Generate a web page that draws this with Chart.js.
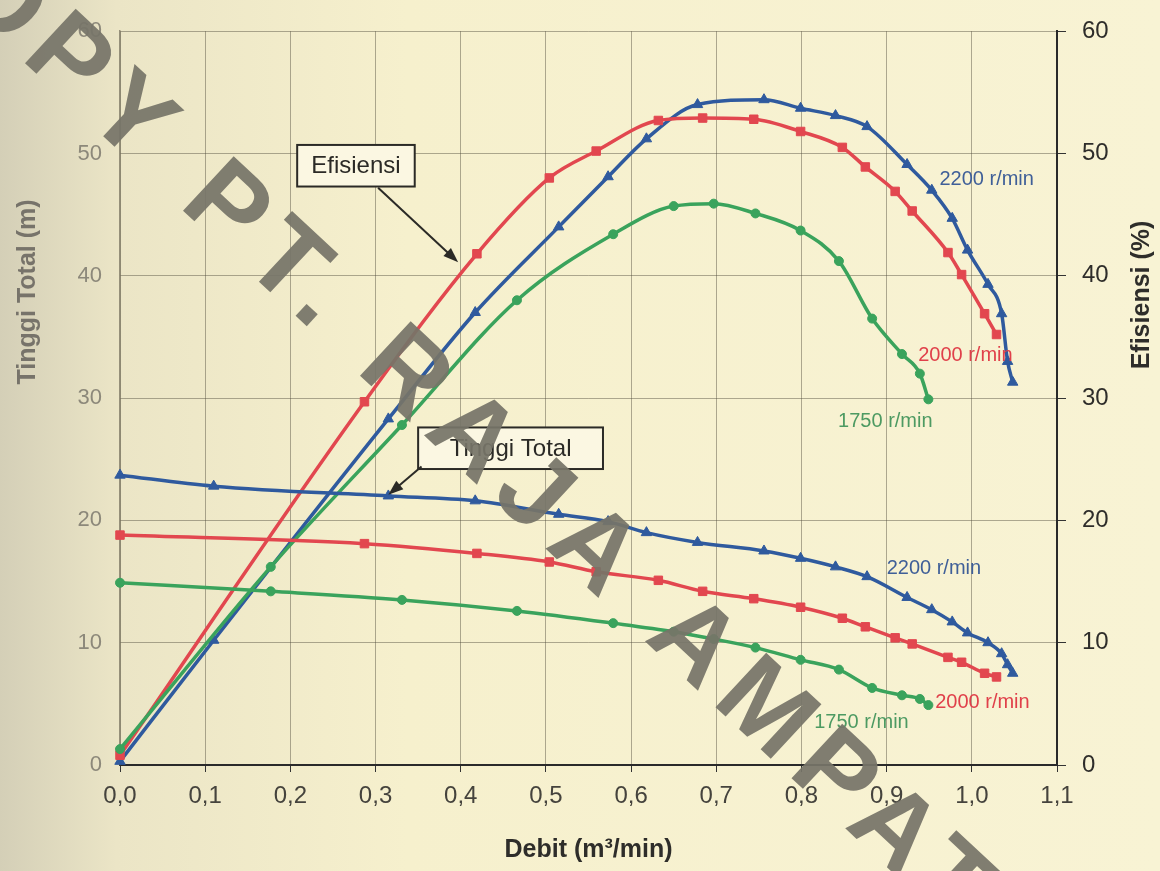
<!DOCTYPE html>
<html>
<head>
<meta charset="utf-8">
<script src="https://cdn.jsdelivr.net/npm/chart.js@4.4.1/dist/chart.umd.min.js"></script>
<style>
  html, body { margin: 0; padding: 0; background: #f5efcb; }
  #wrap { width: 1160px; height: 871px; }
</style>
</head>
<body>
<div id="wrap"><canvas id="chart" width="1160" height="871"></canvas></div>
<script>
// debit (m3/min) of the measured points, one list per speed
const debitBlue = [0, 0.11, 0.315, 0.417, 0.515, 0.573, 0.618, 0.678, 0.756, 0.799, 0.84, 0.877, 0.924, 0.953, 0.977, 0.995, 1.019, 1.035, 1.042, 1.048];
const debitRed = [0, 0.287, 0.419, 0.504, 0.559, 0.632, 0.684, 0.744, 0.799, 0.848, 0.875, 0.91, 0.93, 0.972, 0.988, 1.015, 1.029];
const debitGreen = [0, 0.177, 0.331, 0.466, 0.579, 0.65, 0.697, 0.746, 0.799, 0.844, 0.883, 0.918, 0.939, 0.949];

// tinggi total (m)
const headBlue = [23.7, 22.8, 22.0, 21.6, 20.5, 19.9, 19.0, 18.2, 17.5, 16.9, 16.2, 15.4, 13.7, 12.7, 11.7, 10.8, 10.0, 9.1, 8.2, 7.5];
const headRed = [18.8, 18.1, 17.3, 16.6, 15.8, 15.1, 14.2, 13.6, 12.9, 12.0, 11.3, 10.4, 9.9, 8.8, 8.4, 7.5, 7.2];
const headGreen = [14.9, 14.2, 13.5, 12.6, 11.6, 10.9, 10.3, 9.6, 8.6, 7.8, 6.3, 5.7, 5.4, 4.9];

// efisiensi (%)
const effBlue = [0.3, 10.2, 28.3, 37.0, 44.0, 48.1, 51.2, 54.0, 54.4, 53.7, 53.1, 52.2, 49.1, 47.0, 44.7, 42.1, 39.3, 36.9, 33.0, 31.3];
const effRed = [0.8, 29.7, 41.8, 48.0, 50.2, 52.7, 52.9, 52.8, 51.8, 50.5, 48.9, 46.9, 45.3, 41.9, 40.1, 36.9, 35.2];
const effGreen = [1.3, 16.2, 27.8, 38.0, 43.4, 45.7, 45.9, 45.1, 43.7, 41.2, 36.5, 33.6, 32.0, 29.9];

const speeds = ['2200 r/min', '2000 r/min', '1750 r/min'];
const yTicks = [0, 10, 20, 30, 40, 50, 60];

const BLUE = '#2f5a9e';
const RED = '#e2474f';
const GREEN = '#3aa35c';
const FONT = "'Liberation Sans', Arial, sans-serif";

function pts(xs, ys) {
    return xs.map((x, i) => ({ x: x, y: ys[i] }));
}

function series(label, xs, ys, color, style, radius, axis) {
    return {
        label: label,
        data: pts(xs, ys),
        yAxisID: axis,
        borderColor: color,
        backgroundColor: color,
        borderWidth: 3.5,
        pointStyle: style,
        pointRadius: radius,
        pointBorderWidth: 1,
        cubicInterpolationMode: 'monotone',
        clip: false
    };
}

// text boxes, arrows and speed labels, placed in data units
const notes = [
    { text: speeds[0], x: 0.962, y: 47.9, color: '#3f5f98' },
    { text: speeds[1], x: 0.937, y: 33.5, color: '#e0404a' },
    { text: speeds[2], x: 0.843, y: 28.1, color: '#4d9a62' },
    { text: speeds[0], x: 0.900, y: 16.1, color: '#3f5f98' },
    { text: speeds[1], x: 0.957, y: 5.1, color: '#e0404a' },
    { text: speeds[2], x: 0.815, y: 3.5, color: '#4d9a62' }
];
const boxes = [
    { text: 'Efisiensi', x0: 0.208, x1: 0.346, y0: 50.7, y1: 47.3, ax0: 0.303, ay0: 47.2, ax1: 0.397, ay1: 41.1 },
    { text: 'Tinggi Total', x0: 0.350, x1: 0.567, y0: 27.6, y1: 24.2, ax0: 0.354, ay0: 24.4, ax1: 0.315, ay1: 22.1 }
];

function arrow(ctx, x0, y0, x1, y1) {
    const a = Math.atan2(y1 - y0, x1 - x0);
    ctx.beginPath();
    ctx.moveTo(x0, y0);
    ctx.lineTo(x1 - 10 * Math.cos(a), y1 - 10 * Math.sin(a));
    ctx.stroke();
    ctx.beginPath();
    ctx.moveTo(x1, y1);
    ctx.lineTo(x1 - 16 * Math.cos(a - 0.35), y1 - 16 * Math.sin(a - 0.35));
    ctx.lineTo(x1 - 16 * Math.cos(a + 0.35), y1 - 16 * Math.sin(a + 0.35));
    ctx.closePath();
    ctx.fill();
}

const decor = {
    id: 'decor',
    beforeDraw(chart) {
        const { ctx, width, height } = chart;
        const g = ctx.createLinearGradient(0, 0, width, 0);
        g.addColorStop(0, '#d4cfb7');
        g.addColorStop(0.1, '#ebe5c6');
        g.addColorStop(0.35, '#f6f0cd');
        g.addColorStop(1, '#f8f3d4');
        ctx.save();
        ctx.fillStyle = g;
        ctx.fillRect(0, 0, width, height);
        ctx.restore();
    },
    afterDatasetsDraw(chart) {
        const ctx = chart.ctx;
        const sx = chart.scales.x, sy = chart.scales.yR;
        ctx.save();
        ctx.textBaseline = 'middle';
        ctx.font = '20px ' + FONT;
        notes.forEach(n => {
            ctx.fillStyle = n.color;
            ctx.textAlign = 'left';
            ctx.fillText(n.text, sx.getPixelForValue(n.x), sy.getPixelForValue(n.y));
        });
        boxes.forEach(b => {
            const l = sx.getPixelForValue(b.x0), r = sx.getPixelForValue(b.x1);
            const t = sy.getPixelForValue(b.y0), bt = sy.getPixelForValue(b.y1);
            ctx.fillStyle = '#fbf7e2';
            ctx.fillRect(l, t, r - l, bt - t);
            ctx.strokeStyle = '#2b2a26';
            ctx.lineWidth = 2;
            ctx.strokeRect(l, t, r - l, bt - t);
            ctx.fillStyle = '#2b2a26';
            ctx.font = '24px ' + FONT;
            ctx.textAlign = 'center';
            ctx.fillText(b.text, (l + r) / 2, (t + bt) / 2 + 1);
            ctx.lineWidth = 2;
            arrow(ctx, sx.getPixelForValue(b.ax0), sy.getPixelForValue(b.ay0),
                sx.getPixelForValue(b.ax1), sy.getPixelForValue(b.ay1));
        });
        ctx.restore();
    },
    afterDraw(chart) {
        const ctx = chart.ctx;
        ctx.save();
        ctx.textAlign = 'center';
        ctx.textBaseline = 'middle';
        // axis titles, both read bottom to top
        ctx.font = 'bold 25px ' + FONT;
        ctx.fillStyle = '#77736a';
        ctx.translate(28, 292);
        ctx.rotate(-Math.PI / 2);
        ctx.fillText('Tinggi Total (m)', 0, 0);
        ctx.setTransform(1, 0, 0, 1, 0, 0);
        ctx.fillStyle = '#2e2d2a';
        ctx.translate(1142, 295);
        ctx.rotate(-Math.PI / 2);
        ctx.fillText('Efisiensi (%)', 0, 0);
        ctx.setTransform(1, 0, 0, 1, 0, 0);
        // watermark over the scan
        ctx.font = 'bold 108px ' + FONT;
        ctx.letterSpacing = '14px';
        ctx.fillStyle = 'rgba(118,116,104,0.93)';
        ctx.textAlign = 'left';
        ctx.translate(-99, -93);
        ctx.rotate(43 * Math.PI / 180);
        ctx.fillText('COPY PT. RAJA AMPAT', 0, 0);
        ctx.restore();
    }
};

const ctx = document.getElementById('chart').getContext('2d');
new Chart(ctx, {
    type: 'line',
    data: {
        datasets: [
            series(speeds[2] + ' tinggi', debitGreen, headGreen, GREEN, 'circle', 4.5, 'yL'),
            series(speeds[1] + ' tinggi', debitRed, headRed, RED, 'rect', 6, 'yL'),
            series(speeds[0] + ' tinggi', debitBlue, headBlue, BLUE, 'triangle', 6, 'yL'),
            series(speeds[2] + ' efisiensi', debitGreen, effGreen, GREEN, 'circle', 4.5, 'yR'),
            series(speeds[1] + ' efisiensi', debitRed, effRed, RED, 'rect', 6, 'yR'),
            series(speeds[0] + ' efisiensi', debitBlue, effBlue, BLUE, 'triangle', 6, 'yR')
        ]
    },
    options: {
        responsive: false,
        animation: false,
        layout: { padding: { top: 25, left: 0, right: 0, bottom: 0 } },
        plugins: {
            legend: { display: false },
            tooltip: { enabled: false }
        },
        scales: {
            x: {
                type: 'linear',
                min: 0,
                max: 1.1,
                afterFit: s => { s.height = 106; },
                afterBuildTicks: s => { s.ticks = [0, 1, 2, 3, 4, 5, 6, 7, 8, 9, 10, 11].map(i => ({ value: i / 10 })); },
                ticks: {
                    autoSkip: false,
                    maxRotation: 0,
                    padding: 10,
                    color: '#45433d',
                    font: { family: FONT, size: 24 },
                    callback: v => Number(v).toFixed(1).replace('.', ',')
                },
                grid: { color: 'rgba(80,75,60,0.45)', lineWidth: 1, tickLength: 7, tickColor: '#333' },
                border: { color: '#2a2a2a', width: 2 },
                title: {
                    display: true,
                    text: 'Debit (m³/min)',
                    color: '#2e2d2a',
                    font: { family: FONT, size: 25, weight: 'bold' },
                    padding: { top: 0, bottom: 6 }
                }
            },
            yL: {
                position: 'left',
                min: 0,
                max: 60,
                afterFit: s => { s.width = 120; },
                afterBuildTicks: s => { s.ticks = yTicks.map(v => ({ value: v })); },
                ticks: { padding: 18, color: '#8c887a', font: { family: FONT, size: 22 } },
                grid: { color: 'rgba(80,75,60,0.45)', lineWidth: 1, drawTicks: false },
                border: { color: 'rgba(80,75,60,0.55)', width: 1.5 }
            },
            yR: {
                position: 'right',
                min: 0,
                max: 60,
                afterFit: s => { s.width = 103; },
                afterBuildTicks: s => { s.ticks = yTicks.map(v => ({ value: v })); },
                ticks: { padding: 16, color: '#2e2d2a', font: { family: FONT, size: 24 } },
                grid: { drawOnChartArea: false, tickLength: 9, tickColor: '#333' },
                border: { color: '#2a2a2a', width: 2 }
            }
        }
    },
    plugins: [decor]
});
</script>
</body>
</html>
